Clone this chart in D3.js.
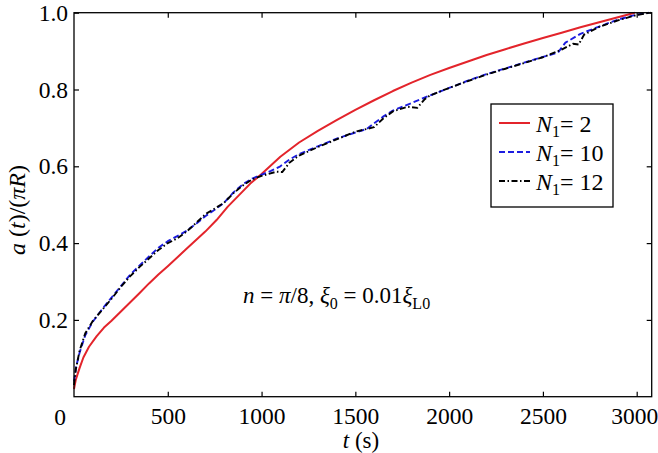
<!DOCTYPE html>
<html>
<head>
<meta charset="utf-8">
<script src="https://cdn.jsdelivr.net/npm/d3@7"></script>
<style>
  body { margin: 0; background: #fff; }
</style>
</head>
<body>
<div id="chart"></div>
<script>
// values: t in seconds, a(t)/(pi R)
const red_t = [0, 10, 30, 50, 80, 120, 160, 200, 250, 300, 350, 400, 450, 500, 600, 700, 760, 820, 880, 940, 1000, 1100, 1200, 1300, 1400, 1500, 1600, 1700, 1800, 1900, 2000, 2100, 2200, 2300, 2400, 2500, 2600, 2700, 2800, 2900, 2990]
const red_v = [0.02, 0.045, 0.075, 0.102, 0.13, 0.157, 0.18, 0.198, 0.222, 0.246, 0.27, 0.295, 0.318, 0.34, 0.385, 0.43, 0.46, 0.495, 0.525, 0.555, 0.58, 0.625, 0.662, 0.692, 0.72, 0.747, 0.772, 0.796, 0.818, 0.838, 0.856, 0.873, 0.89, 0.905, 0.92, 0.934, 0.948, 0.962, 0.975, 0.988, 1.0]

const blue_t = [0, 10, 30, 60, 100, 150, 200, 250, 300, 350, 400, 450, 500, 550, 600, 650, 700, 750, 800, 850, 900, 950, 1000, 1050, 1100, 1150, 1200, 1300, 1400, 1500, 1560, 1600, 1650, 1700, 1800, 1900, 2000, 2100, 2200, 2300, 2400, 2500, 2580, 2620, 2700, 2800, 2900, 3000, 3065]
const blue_v = [0.04, 0.075, 0.115, 0.16, 0.195, 0.228, 0.258, 0.288, 0.318, 0.342, 0.365, 0.388, 0.405, 0.418, 0.432, 0.45, 0.47, 0.487, 0.505, 0.532, 0.553, 0.568, 0.578, 0.588, 0.6, 0.618, 0.632, 0.652, 0.672, 0.688, 0.697, 0.712, 0.73, 0.745, 0.765, 0.785, 0.804, 0.823, 0.84, 0.855, 0.87, 0.885, 0.896, 0.922, 0.945, 0.964, 0.982, 0.995, 1.0]

const black_t = [0, 10, 30, 60, 100, 150, 200, 250, 300, 350, 400, 450, 500, 550, 600, 650, 700, 750, 800, 850, 900, 950, 1000, 1080, 1110, 1150, 1200, 1300, 1400, 1500, 1600, 1650, 1700, 1780, 1830, 1870, 1900, 2000, 2100, 2200, 2300, 2400, 2500, 2600, 2660, 2690, 2720, 2800, 2900, 3000, 3075]
const black_v = [0.03, 0.072, 0.12, 0.165, 0.197, 0.226, 0.255, 0.286, 0.314, 0.338, 0.36, 0.382, 0.4, 0.412, 0.43, 0.452, 0.475, 0.49, 0.505, 0.53, 0.55, 0.566, 0.575, 0.586, 0.585, 0.61, 0.628, 0.65, 0.67, 0.69, 0.702, 0.725, 0.743, 0.755, 0.752, 0.775, 0.785, 0.804, 0.822, 0.839, 0.854, 0.869, 0.884, 0.904, 0.919, 0.917, 0.943, 0.963, 0.98, 0.994, 1.0]

const xTicks = [500, 1000, 1500, 2000, 2500, 3000]
const yTicks = [0.2, 0.4, 0.6, 0.8, 1.0]

const series = [
  { n: "2", t: red_t, v: red_v, color: "#e3242b", dash: null, w: 2 },
  { n: "10", t: blue_t, v: blue_v, color: "#1c1ce0", dash: "6,3", w: 1.9 },
  { n: "12", t: black_t, v: black_v, color: "#000", dash: "6,2.5,1.5,2.5", w: 1.9 }
]

const FONT = '"Liberation Serif"'

const width = 658
const height = 453
const margin = { top: 12.7, right: 6.3, bottom: 56.3, left: 74 }
const iw = width - margin.left - margin.right
const ih = height - margin.top - margin.bottom

const x = d3.scaleLinear().domain([0, 3080]).range([0, iw])
const y = d3.scaleLinear().domain([0, 1]).range([ih, 0])

const svg = d3.select("#chart").append("svg")
    .attr("width", width)
    .attr("height", height)

const g = svg.append("g")
    .attr("transform", `translate(${margin.left},${margin.top})`)

const line = d3.line()
    .x(d => x(d[0]))
    .y(d => y(d[1]))

g.append("g")
  .selectAll("path")
  .data(series)
  .join("path")
    .attr("d", s => line(s.t.map((t, i) => [t, s.v[i]])))
    .attr("fill", "none")
    .attr("stroke", s => s.color)
    .attr("stroke-width", s => s.w)
    .attr("stroke-dasharray", s => s.dash)
    .attr("stroke-linejoin", "round")

// axes, ticks pointing inward
const styleAxis = sel => {
  sel.attr("font-family", null).attr("font-size", null)
  sel.select(".domain").remove()
  sel.selectAll(".tick line").attr("stroke", "#000").attr("stroke-width", 1.2)
  sel.selectAll("text").attr("fill", "#000").style("font-size", "23.5px").style("font-family", FONT)
}

g.append("g")
    .attr("transform", `translate(0,${ih})`)
    .call(d3.axisBottom(x).tickValues(xTicks).tickSizeInner(-5).tickSizeOuter(0).tickPadding(11).tickFormat(d3.format("d")))
    .call(styleAxis)
    .call(a => a.selectAll(".tick text").filter(d => d === 3000).attr("dx", -2.5))

g.append("g")
    .call(d3.axisLeft(y).tickValues(yTicks).tickSizeInner(-5).tickSizeOuter(0).tickPadding(6).tickFormat(d3.format(".1f")))
    .call(styleAxis)

g.append("g")
    .call(d3.axisTop(x).tickValues(xTicks).tickSizeInner(-5).tickSizeOuter(0).tickFormat(""))
    .call(styleAxis)

g.append("g")
    .attr("transform", `translate(${iw},0)`)
    .call(d3.axisRight(y).tickValues(yTicks).tickSizeInner(-5).tickSizeOuter(0).tickFormat(""))
    .call(styleAxis)

// shared corner zero
g.append("text")
    .attr("x", -14)
    .attr("y", ih + 28.5)
    .attr("text-anchor", "middle")
    .style("font-family", FONT)
    .style("font-size", "23.5px")
    .text("0")

g.append("rect")
    .attr("width", iw)
    .attr("height", ih)
    .attr("fill", "none")
    .attr("stroke", "#000")
    .attr("stroke-width", 1.3)

// axis titles
const xl = svg.append("text")
    .attr("x", 361)
    .attr("y", 448)
    .attr("text-anchor", "middle")
    .style("font-family", FONT)
    .style("font-size", "23px")
xl.append("tspan").style("font-style", "italic").text("t")
xl.append("tspan").text(" (s)")

const yl = svg.append("text")
    .attr("transform", "translate(25,210) rotate(-90)")
    .attr("text-anchor", "middle")
    .style("font-family", FONT)
    .style("font-size", "24px")
yl.append("tspan").style("font-style", "italic").text("a")
yl.append("tspan").text(" (")
yl.append("tspan").style("font-style", "italic").text("t")
yl.append("tspan").text(")/(")
yl.append("tspan").style("font-style", "italic").text("πR")
yl.append("tspan").text(")")

// annotation
const ann = svg.append("text")
    .attr("x", 243)
    .attr("y", 303)
    .style("font-family", FONT)
    .style("font-size", "23px")
ann.append("tspan").style("font-style", "italic").text("n")
ann.append("tspan").text(" = ")
ann.append("tspan").style("font-style", "italic").text("π")
ann.append("tspan").text("/8, ")
ann.append("tspan").style("font-style", "italic").text("ξ")
ann.append("tspan").attr("dy", 6).style("font-size", "16px").text("0")
ann.append("tspan").attr("dy", -6).text(" = 0.01")
ann.append("tspan").style("font-style", "italic").text("ξ")
ann.append("tspan").attr("dy", 6).style("font-size", "16px").text("L0")

// legend
const legend = svg.append("g").attr("transform", "translate(491,104)")
legend.append("rect")
    .attr("width", 122)
    .attr("height", 103)
    .attr("fill", "#fff")
    .attr("stroke", "#000")
    .attr("stroke-width", 1.3)

const row = legend.selectAll("g.row")
  .data(series)
  .join("g")
    .attr("class", "row")
    .attr("transform", (d, i) => `translate(0,${19 + i * 29})`)

row.append("line")
    .attr("x1", 8)
    .attr("x2", 39)
    .attr("stroke", d => d.color)
    .attr("stroke-width", d => d.w)
    .attr("stroke-dasharray", d => d.dash)

const lt = row.append("text")
    .attr("x", 45)
    .attr("y", 9)
    .style("font-family", FONT)
    .style("font-size", "24px")
lt.append("tspan").style("font-style", "italic").text("N")
lt.append("tspan").attr("dy", 5).style("font-size", "16px").text("1")
lt.append("tspan").attr("dy", -5).text(d => "= " + d.n)
</script>
</body>
</html>
